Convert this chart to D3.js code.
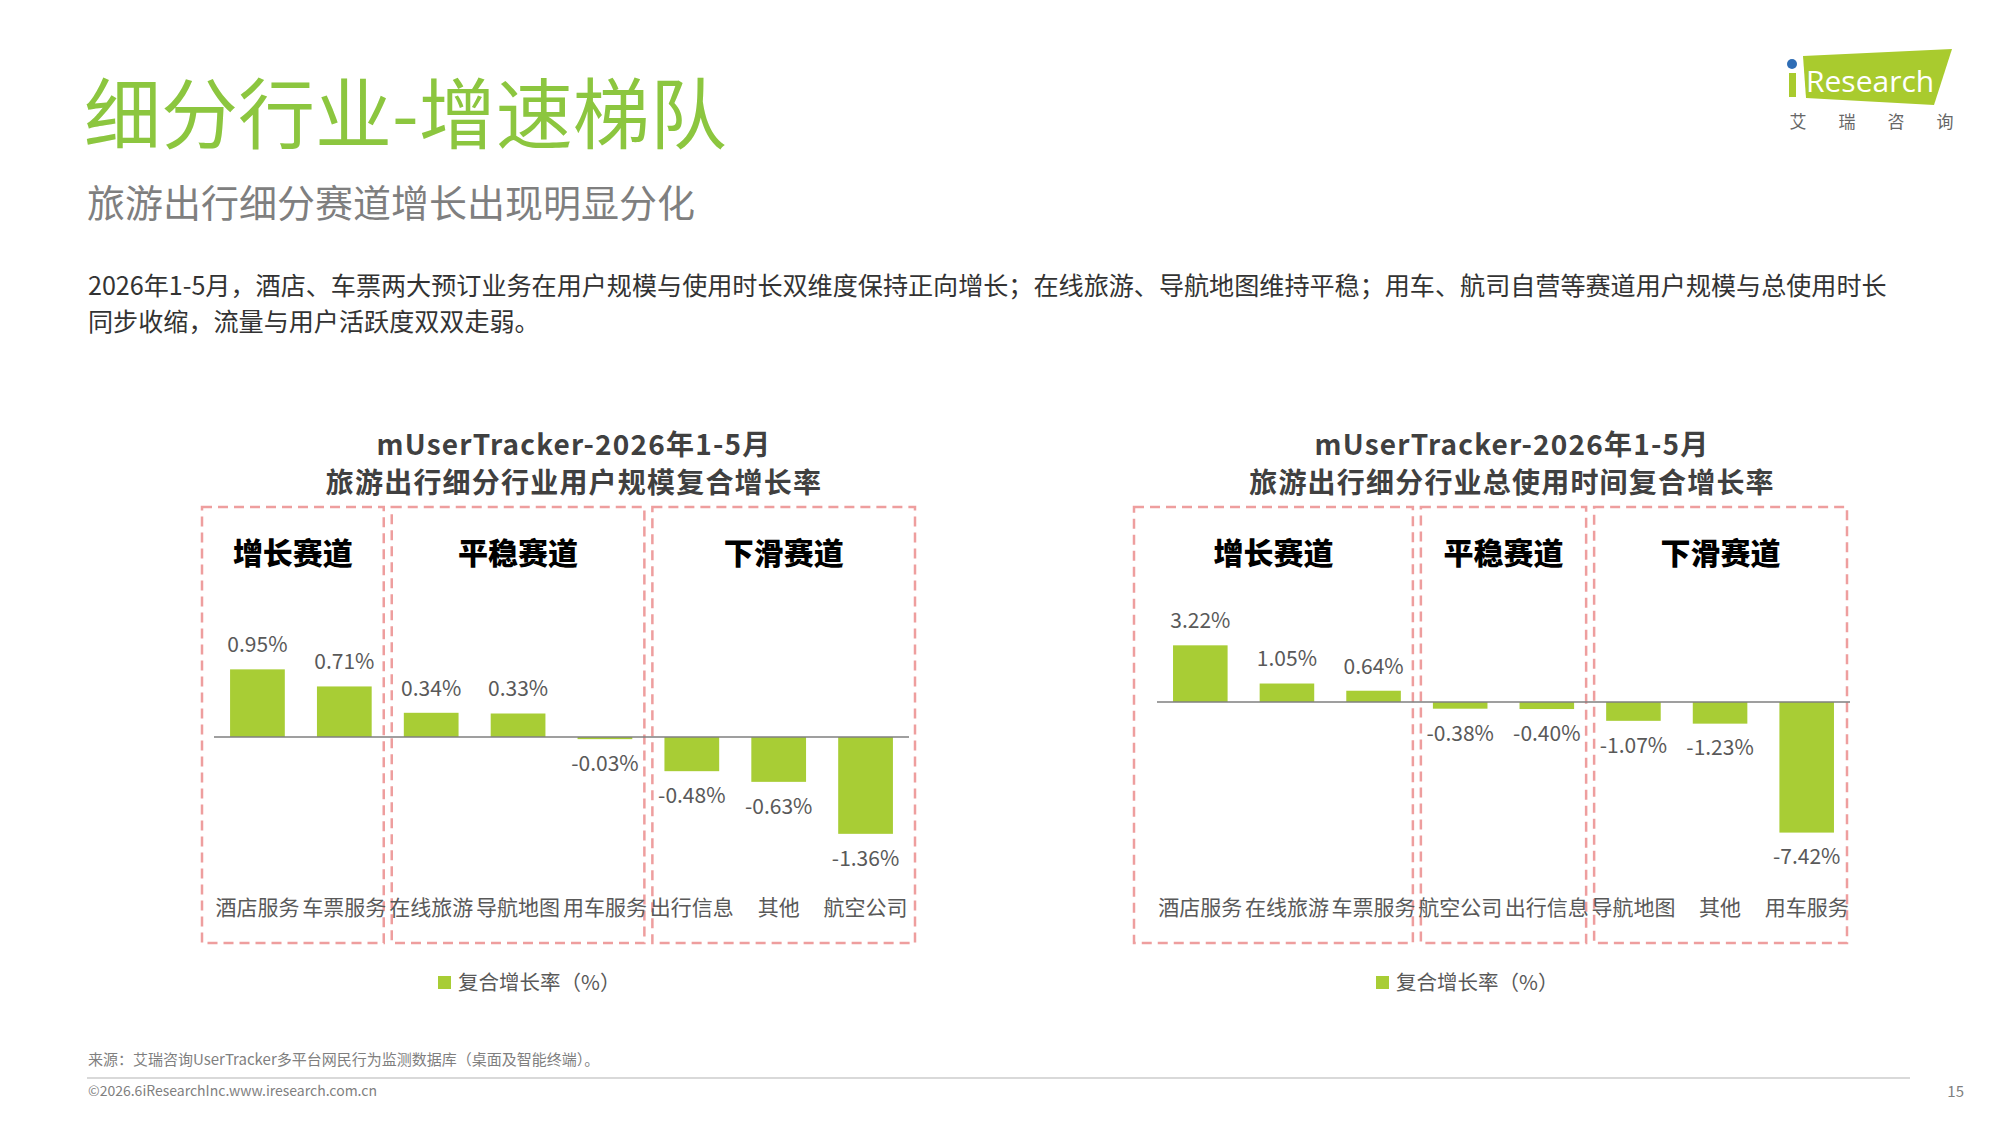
<!DOCTYPE html>
<html>
<head>
<meta charset="utf-8">
<script src="https://cdn.jsdelivr.net/npm/d3@7"></script>
<style>
  body { margin: 0; background: #fff; }
  svg { display: block; }
</style>
</head>
<body>
<div id="chart"></div>
<script>
// data
const leftCategories = ["酒店服务", "车票服务", "在线旅游", "导航地图", "用车服务", "出行信息", "其他", "航空公司"];
const leftValues = [0.95, 0.71, 0.34, 0.33, -0.03, -0.48, -0.63, -1.36];
const leftGroupSizes = [2, 3, 3];

const rightCategories = ["酒店服务", "在线旅游", "车票服务", "航空公司", "出行信息", "导航地图", "其他", "用车服务"];
const rightValues = [3.22, 1.05, 0.64, -0.38, -0.40, -1.07, -1.23, -7.42];
const rightGroupSizes = [3, 2, 3];

const trackNames = ["增长赛道", "平稳赛道", "下滑赛道"];
const legendLabel = "复合增长率（%）";

const w = 2000;
const h = 1125;
const font = "'Noto Sans CJK SC', 'Noto Sans', sans-serif";
const barColor = "#A8CD35";
const dashColor = "#EE9E9E";
const labelColor = "#595959";

const svg = d3.select("#chart")
    .append("svg")
    .attr("width", w)
    .attr("height", h)
    .style("font-family", font);

// page title + subtitle
svg.append("text")
    .attr("x", 84).attr("y", 143)
    .attr("font-size", 77)
    .attr("fill", "#8CC63F")
    .text("细分行业-增速梯队");

svg.append("text")
    .attr("x", 87).attr("y", 217)
    .attr("font-size", 38)
    .attr("fill", "#7F7F7F")
    .text("旅游出行细分赛道增长出现明显分化");

// description
const descLines = [
    "2026年1-5月，酒店、车票两大预订业务在用户规模与使用时长双维度保持正向增长；在线旅游、导航地图维持平稳；用车、航司自营等赛道用户规模与总使用时长",
    "同步收缩，流量与用户活跃度双双走弱。"
];
svg.selectAll(".desc")
    .data(descLines)
    .enter()
    .append("text")
    .attr("class", "desc")
    .attr("x", 88)
    .attr("y", (d, i) => 295 + i * 36)
    .attr("font-size", 25.1)
    .attr("fill", "#333")
    .text(d => d);

// logo
const logo = svg.append("g");
logo.append("path")
    .attr("d", "M1803,56 L1952,49 L1934,105 L1806,98 Z")
    .attr("fill", "#A9CB2E");
logo.append("circle").attr("cx", 1792).attr("cy", 64).attr("r", 5).attr("fill", "#2F6DB5");
logo.append("rect").attr("x", 1789).attr("y", 73).attr("width", 7).attr("height", 24).attr("fill", "#A9CB2E");
logo.append("text")
    .attr("x", 1806).attr("y", 92)
    .attr("font-size", 30)
    .attr("font-family", "'Open Sans', sans-serif")
    .attr("fill", "#fff")
    .text("Research");
["艾", "瑞", "咨", "询"].forEach((c, i) => {
    logo.append("text")
        .attr("x", 1798 + i * 49).attr("y", 128)
        .attr("text-anchor", "middle")
        .attr("font-size", 17)
        .attr("fill", "#666")
        .text(c);
});

function drawChart(opts) {
    const { categories, values, groups, titleX, title2, range, zeroY, pxPerUnit, padL, padR } = opts;
    const g = svg.append("g");

    // chart title, two lines in one text element
    const title = g.append("text")
        .attr("text-anchor", "middle")
        .attr("font-size", 28).attr("font-weight", 700)
        .attr("letter-spacing", 1.2)
        .attr("fill", "#404040");
    title.append("tspan").attr("x", titleX).attr("y", 455).text("mUserTracker-2026年1-5月");
    title.append("tspan").attr("x", titleX).attr("y", 493).text(title2);

    const x = d3.scaleBand()
        .domain(categories)
        .range(range)
        .paddingInner(0.37)
        .paddingOuter(0.185);

    const y = d3.scaleLinear()
        .domain([-1, 1])
        .range([zeroY + pxPerUnit, zeroY - pxPerUnit]);

    // dashed track boxes
    let start = 0;
    groups.forEach((n, i) => {
        const b0 = range[0] + start * x.step();
        const b1 = range[0] + (start + n) * x.step();
        const x0 = i === 0 ? range[0] - padL : b0 + 4;
        const x1 = i === groups.length - 1 ? range[1] + padR : b1 - 4;
        g.append("rect")
            .attr("x", x0).attr("y", 507)
            .attr("width", x1 - x0).attr("height", 436)
            .attr("fill", "none")
            .attr("stroke", dashColor)
            .attr("stroke-width", 2.5)
            .attr("stroke-dasharray", "10,6");
        g.append("text")
            .attr("x", (x0 + x1) / 2).attr("y", 564)
            .attr("text-anchor", "middle")
            .attr("font-size", 30).attr("font-weight", 900)
            .attr("fill", "#000")
            .text(trackNames[i]);
        start += n;
    });

    // bars
    g.selectAll(".bar")
        .data(values)
        .enter()
        .append("rect")
        .attr("class", "bar")
        .attr("x", (d, i) => x(categories[i]))
        .attr("y", d => y(Math.max(0, d)))
        .attr("width", x.bandwidth())
        .attr("height", d => Math.abs(y(d) - y(0)))
        .attr("fill", barColor);

    // zero line
    g.append("line")
        .attr("x1", range[0]).attr("x2", range[1])
        .attr("y1", y(0)).attr("y2", y(0))
        .attr("stroke", "#7F7F7F")
        .attr("stroke-width", 1.5);

    // value labels
    g.selectAll(".val")
        .data(values)
        .enter()
        .append("text")
        .attr("class", "val")
        .attr("x", (d, i) => x(categories[i]) + x.bandwidth() / 2)
        .attr("y", d => d >= 0 ? y(d) - 24.5 : y(d) + 24.5)
        .attr("dy", "0.35em")
        .attr("text-anchor", "middle")
        .attr("font-size", 21)
        .attr("fill", labelColor)
        .text(d => d.toFixed(2) + "%");

    // category labels
    const axis = g.append("g")
        .attr("transform", `translate(0, 900)`)
        .call(d3.axisBottom(x).tickSize(0).tickPadding(0));
    axis.select(".domain").remove();
    axis.selectAll("text")
        .attr("font-size", 21)
        .attr("font-family", font)
        .attr("fill", labelColor);

    // legend
    const lg = g.append("g").attr("transform", `translate(${titleX - 136}, 983)`);
    lg.append("rect").attr("x", 0).attr("y", -7).attr("width", 13).attr("height", 13).attr("fill", barColor);
    lg.append("text")
        .attr("x", 20).attr("y", 0).attr("dy", "0.35em")
        .attr("font-size", 20.5)
        .attr("fill", labelColor)
        .text(legendLabel);
}

drawChart({
    categories: leftCategories,
    values: leftValues,
    groups: leftGroupSizes,
    titleX: 574,
    title2: "旅游出行细分行业用户规模复合增长率",
    range: [214, 909],
    zeroY: 737,
    pxPerUnit: 71.2,
    padL: 12,
    padR: 6
});

drawChart({
    categories: rightCategories,
    values: rightValues,
    groups: rightGroupSizes,
    titleX: 1512,
    title2: "旅游出行细分行业总使用时间复合增长率",
    range: [1157, 1850],
    zeroY: 702,
    pxPerUnit: 17.6,
    padL: 23,
    padR: -3
});

// footer
svg.append("text")
    .attr("x", 88).attr("y", 1065)
    .attr("font-size", 15)
    .attr("fill", "#7F7F7F")
    .text("来源：艾瑞咨询UserTracker多平台网民行为监测数据库（桌面及智能终端）。");
svg.append("line")
    .attr("x1", 87).attr("x2", 1910)
    .attr("y1", 1078).attr("y2", 1078)
    .attr("stroke", "#CCCCCC")
    .attr("stroke-width", 1.5);
svg.append("text")
    .attr("x", 88).attr("y", 1096)
    .attr("font-size", 14)
    .attr("fill", "#7F7F7F")
    .text("©2026.6iResearchInc.www.iresearch.com.cn");
svg.append("text")
    .attr("x", 1964).attr("y", 1097)
    .attr("text-anchor", "end")
    .attr("font-size", 15)
    .attr("fill", "#7F7F7F")
    .text("15");
</script>
</body>
</html>
